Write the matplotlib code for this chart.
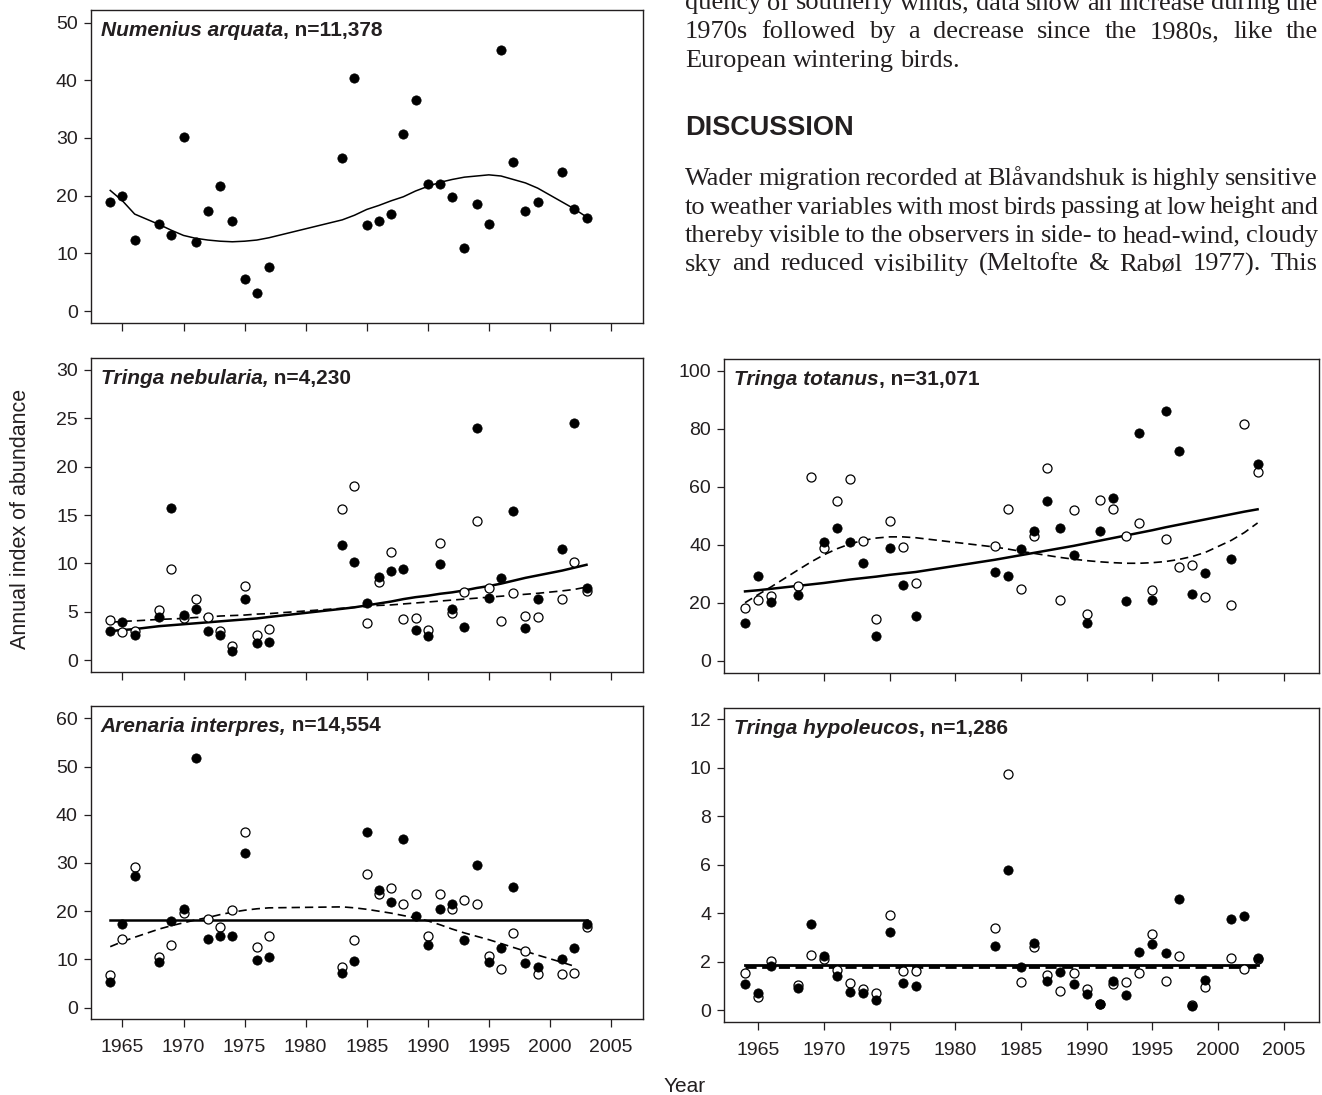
import numpy as np
import matplotlib.pyplot as plt

plt.rcParams['font.family'] = ['Liberation Sans', 'DejaVu Sans']

INK = '#231f20'

years = [1964, 1965, 1966, 1968, 1969, 1970, 1971, 1972, 1973, 1974, 1975, 1976, 1977,
         1983, 1984, 1985, 1986, 1987, 1988, 1989, 1990, 1991, 1992, 1993, 1994, 1995,
         1996, 1997, 1998, 1999, 2001, 2002, 2003]
nan = np.nan

# Numenius arquata (filled only)
arquata_filled = [18.9, 20.0, 12.3, 15.0, 13.2, 30.2, 11.9, 17.4, 21.7, 15.6, 5.5, 3.2, 7.6,
                  26.6, 40.4, 14.9, 15.6, 16.9, 30.6, 36.6, 22.1, 22.1, 19.7, 11.0, 18.5, 15.1,
                  45.3, 25.9, 17.4, 18.9, 24.1, 17.6, 16.1]
arquata_solid = [20.9, 19.1, 16.8, 15.0, 14.0, 13.1, 12.6, 12.3, 12.1, 12.0, 12.1, 12.3, 12.7,
                 15.8, 16.6, 17.6, 18.3, 19.1, 19.8, 20.8, 21.6, 22.3, 22.8, 23.2, 23.4, 23.6,
                 23.4, 22.8, 22.2, 21.3, 18.9, 17.7, 16.3]

# Tringa nebularia
nebularia_filled = [3.0, 3.9, 2.55, 4.5, 15.75, 4.7, 5.3, 3.0, 2.55, 0.9, 6.3, 1.75, 1.9,
                    11.9, 10.1, 5.9, 8.6, 9.2, 9.4, 3.1, 2.45, 9.9, 5.3, 3.45, 24.0, 6.4,
                    8.45, 15.4, 3.3, 6.3, 11.45, 24.5, 7.4]
nebularia_open = [4.1, 2.85, 2.95, 5.15, 9.45, 4.3, 6.3, 4.5, 3.0, 1.45, 7.65, 2.6, 3.25,
                  15.6, 18.0, 3.8, 8.1, 11.15, 4.25, 4.35, 3.1, 12.15, 4.9, 7.05, 14.4, 7.4,
                  4.05, 6.95, 4.6, 4.5, 6.3, 10.15, 7.15]
nebularia_solid = [3.0, 3.1, 3.2, 3.5, 3.6, 3.7, 3.8, 3.9, 4.0, 4.1, 4.2, 4.3, 4.45,
                   5.3, 5.45, 5.65, 5.85, 6.05, 6.3, 6.5, 6.65, 6.85, 7.0, 7.2, 7.45, 7.65,
                   7.9, 8.2, 8.5, 8.75, 9.25, 9.55, 9.85]
nebularia_dashed = [3.9, 4.0, 4.05, 4.2, 4.25, 4.3, 4.4, 4.45, 4.55, 4.6, 4.65, 4.75, 4.8,
                    5.35, 5.45, 5.55, 5.65, 5.7, 5.8, 5.9, 6.0, 6.1, 6.2, 6.3, 6.4, 6.5,
                    6.6, 6.7, 6.8, 6.9, 7.15, 7.3, 7.55]

# Arenaria interpres
arenaria_filled = [5.4, 17.4, 27.2, 9.5, 18.0, 20.4, 51.8, 14.3, 14.9, 14.9, 32.1, 9.8, 10.6,
                   7.1, 9.75, 36.5, 24.3, 21.85, 35.0, 19.0, 12.9, 20.5, 21.5, 14.1, 29.65, 9.55,
                   12.3, 25.1, 9.35, 8.5, 10.0, 12.3, 17.3]
arenaria_open = [6.8, 14.2, 29.1, 10.5, 12.9, 19.7, nan, 18.45, 16.8, 20.3, 36.5, 12.5, 14.9,
                 8.45, 14.0, 27.65, 23.6, 24.75, 21.6, 23.5, 14.9, 23.5, 20.5, 22.3, 21.6, 10.8,
                 7.95, 15.4, 11.7, 6.9, 6.9, 7.1, 16.8]
arenaria_solid = [18.1] * 33
arenaria_dashed = [12.65, 13.7, 14.6, 16.3, 17.0, 17.6, 18.2, 18.7, 19.3, 19.8, 20.2, 20.5, 20.7,
                   20.9, 20.7, 20.4, 20.0, 19.6, 19.1, 18.6, 18.0, 17.2, 16.3, 15.5, 14.8, 14.1,
                   13.3, 12.5, 11.7, 10.9, 9.4, 8.6, nan]

# Tringa totanus
totanus_filled = [12.9, 29.1, 20.2, 22.5, nan, 41.0, 45.9, 40.9, 33.8, 8.6, 39.0, 26.0, 15.4,
                  30.5, 29.3, 38.6, 44.7, 55.0, 45.9, 36.4, 12.9, 44.8, 56.0, 20.7, 78.6, 21.0,
                  86.1, 72.2, 23.0, 30.1, 35.0, nan, 67.7]
totanus_open = [18.1, 20.9, 22.3, 25.8, 63.2, 38.8, 55.0, 62.8, 41.4, 14.3, 48.2, 39.1, 26.7,
                39.4, 52.2, 24.8, 43.1, 66.6, 21.0, 52.0, 16.2, 55.3, 52.2, 43.0, 47.4, 24.4,
                41.9, 32.4, 33.1, 21.9, 19.2, 81.6, 65.1]
totanus_solid = [23.9, 24.3, 24.8, 25.8, 26.3, 26.8, 27.4, 28.0, 28.5, 29.0, 29.6, 30.1, 30.6,
                 34.8, 35.6, 36.4, 37.2, 38.0, 38.8, 39.6, 40.5, 41.4, 42.3, 43.2, 44.1, 45.0,
                 46.0, 46.9, 47.8, 48.7, 50.5, 51.4, 52.2]
totanus_dashed = [20.0, 22.8, 25.5, 31.2, 34.0, 36.5, 38.6, 40.3, 41.5, 42.3, 42.7, 42.7, 42.4,
                  39.2, 38.5, 37.7, 37.0, 36.3, 35.6, 35.0, 34.5, 34.1, 33.8, 33.6, 33.6, 33.8,
                  34.2, 34.9, 35.9, 37.3, 41.5, 44.2, 47.5]

# Tringa hypoleucos
hypoleucos_filled = [1.1, 0.73, 1.84, 0.91, 3.57, 2.25, 1.4, 0.77, 0.7, 0.42, 3.23, 1.14, 1.0,
                     2.64, 5.8, 1.77, 2.78, 1.21, 1.59, 1.1, 0.69, 0.25, 1.2, 0.62, 2.4, 2.72,
                     2.38, 4.59, 0.19, 1.25, 3.75, 3.88, 2.17]
hypoleucos_open = [1.53, 0.54, 2.03, 1.04, 2.27, 2.1, 1.66, 1.14, 0.87, 0.7, 3.92, 1.62, 1.62,
                   3.38, 9.76, 1.18, 2.62, 1.46, 0.81, 1.53, 0.87, 0.26, 1.07, 1.18, 1.53, 3.13,
                   1.22, 2.24, 0.2, 0.95, 2.17, 1.72, 2.1]
hypoleucos_solid = [1.87] * 33
hypoleucos_dashed = [1.80] * 33

year_ticks = [1965, 1970, 1975, 1980, 1985, 1990, 1995, 2000, 2005]

W, H = 1322, 1095
fig = plt.figure(figsize=(W / 100, H / 100), dpi=100)


def px_axes(left, top, right, bottom):
    return fig.add_axes([left / W, 1 - bottom / H, (right - left) / W, (bottom - top) / H])


def style_axes(ax, ylim, yticks, xlabels):
    ax.set_xlim(1962.4, 2007.65)
    ax.set_ylim(*ylim)
    ax.set_yticks(yticks)
    ax.set_xticks(year_ticks)
    for s in ax.spines.values():
        s.set_linewidth(1.0)
        s.set_color(INK)
    ax.tick_params(axis='y', direction='out', length=5.3, width=0.9, pad=4.0,
                   labelsize=14, colors=INK)
    ax.tick_params(axis='x', direction='out', length=5.4, width=0.9, pad=9.0,
                   labelsize=14, colors=INK, labelbottom=xlabels)


def title(ax, species, rest):
    t = ax.annotate(species, xy=(0, 1), xycoords='axes fraction', xytext=(10, -20),
                    textcoords='offset pixels', ha='left', va='center', fontsize=15,
                    fontweight='bold', fontstyle='italic', color=INK)
    ax.annotate(rest, xy=(1, 0.5), xycoords=t, ha='left', va='center', fontsize=15,
                fontweight='bold', color=INK)


def points(ax, filled=None, opened=None):
    if opened is not None:
        ax.plot(years, opened, 'o', ms=6.5, mfc='white', mec='black', mew=0.9, zorder=3)
    if filled is not None:
        ax.plot(years, filled, 'o', ms=6.7, mfc='black', mec='black', mew=0.5, zorder=4)


dash = (0, (5, 3))

# Numenius arquata
ax1 = px_axes(90.7, 10, 643.3, 322.5)
points(ax1, arquata_filled)
ax1.plot(years, arquata_solid, color='black', lw=1.1, zorder=2)
style_axes(ax1, (-1.99, 52.17), range(0, 51, 10), False)
title(ax1, 'Numenius arquata', ', n=11,378')

# Tringa nebularia
ax2 = px_axes(90.7, 358.3, 643.3, 672)
points(ax2, nebularia_filled, nebularia_open)
ax2.plot(years, nebularia_solid, color='black', lw=1.8, zorder=2)
ax2.plot(years, nebularia_dashed, color='black', lw=1.2, ls=dash, zorder=2)
style_axes(ax2, (-1.24, 31.21), range(0, 31, 5), False)
title(ax2, 'Tringa nebularia,', ' n=4,230')

# Arenaria interpres
ax3 = px_axes(90.7, 706, 643.3, 1019.3)
points(ax3, arenaria_filled, arenaria_open)
ax3.plot(years, arenaria_solid, color='black', lw=1.8, zorder=2)
ax3.plot(years, arenaria_dashed, color='black', lw=1.2, ls=dash, zorder=2)
style_axes(ax3, (-2.41, 62.55), range(0, 61, 10), True)
title(ax3, 'Arenaria interpres,', ' n=14,554')

# Tringa totanus
ax4 = px_axes(724, 359.3, 1318.7, 673)
points(ax4, totanus_filled, totanus_open)
ax4.plot(years, totanus_solid, color='black', lw=1.8, zorder=2)
ax4.plot(years, totanus_dashed, color='black', lw=1.2, ls=dash, zorder=2)
style_axes(ax4, (-4.24, 103.93), range(0, 101, 20), False)
title(ax4, 'Tringa totanus', ', n=31,071')

# Tringa hypoleucos
ax5 = px_axes(724, 708.3, 1318.7, 1022.3)
points(ax5, hypoleucos_filled, hypoleucos_open)
ax5.plot(years, hypoleucos_solid, color='black', lw=2.0, zorder=2)
ax5.plot(years, hypoleucos_dashed, color='black', lw=2.0, ls=(0, (4, 2)), zorder=2)
style_axes(ax5, (-0.495, 12.45), range(0, 13, 2), True)
title(ax5, 'Tringa hypoleucos', ', n=1,286')

fig.text(21 / W, 1 - 519 / H, 'Annual index of abundance', rotation=90, ha='center',
         va='center', fontsize=15.5, color=INK)
fig.text(685 / W, 1 - 1087 / H, 'Year', ha='center', va='center', fontsize=15, color=INK)

# Running text of the page next to the figure (first line is cut by the page edge)
renderer = fig.canvas.get_renderer()
serif = dict(family=['Liberation Serif', 'DejaVu Serif'], fontsize=19, color=INK, va='baseline')
text_left, text_right = 685, 1318
probe_a = fig.text(0, 0, 'a a', **serif)
probe_b = fig.text(0, 0, 'aa', **serif)
space_w = probe_a.get_window_extent(renderer).width - probe_b.get_window_extent(renderer).width
probe_a.remove()
probe_b.remove()


def text_line(s, baseline, justify=True):
    words = s.split(' ')
    items = [fig.text(0, 1 - baseline / H, w, **serif) for w in words]
    widths = [t.get_window_extent(renderer).width for t in items]
    gap = space_w
    if justify and len(words) > 1:
        gap = (text_right - text_left - sum(widths)) / (len(words) - 1)
    x = text_left
    for t, w in zip(items, widths):
        t.set_x(x / W)
        x += w + gap


text_line('quency of southerly winds, data show an increase during the', 9.5)
text_line('1970s followed by a decrease since the 1980s, like the', 38.2)
text_line('European wintering birds.', 66.9, justify=False)
fig.text(text_left / W, 1 - 135 / H, 'DISCUSSION', fontsize=19.5, fontweight='bold',
         color=INK, va='baseline', ha='left')
text_line('Wader migration recorded at Blåvandshuk is highly sensitive', 185)
text_line('to weather variables with most birds passing at low height and', 213.5)
text_line('thereby visible to the observers in side- to head-wind, cloudy', 242)
text_line('sky and reduced visibility (Meltofte & Rabøl 1977). This', 270.5)

fig.savefig('out.png', dpi=100)
